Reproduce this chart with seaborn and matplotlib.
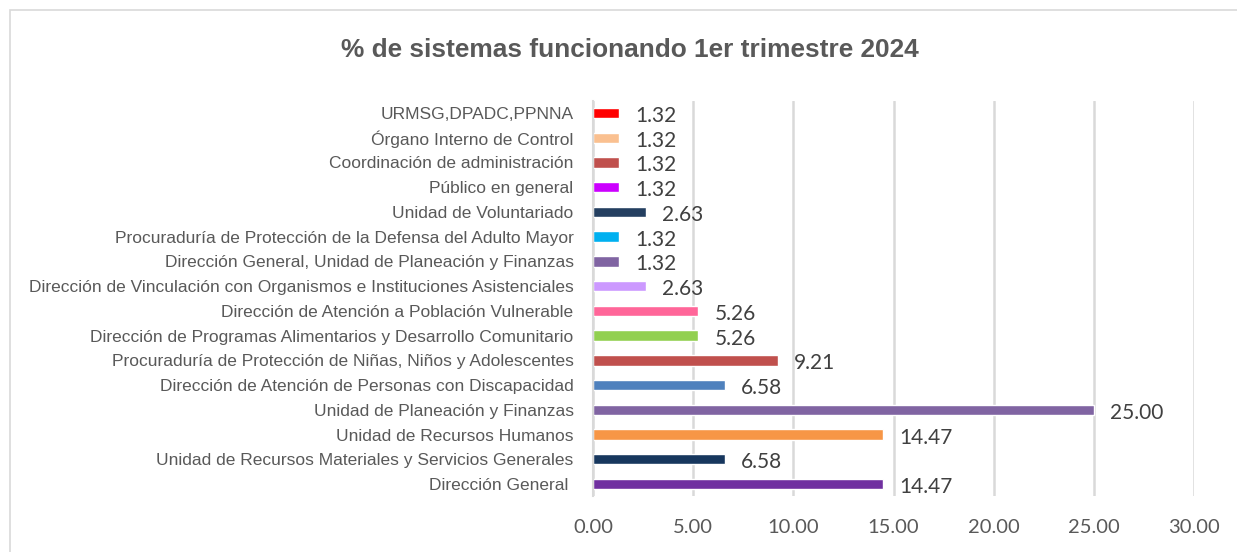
import matplotlib
matplotlib.use("Agg")
import matplotlib.pyplot as plt
import seaborn as sns
import pandas as pd
from matplotlib.patches import Rectangle

categories = [
    "URMSG,DPADC,PPNNA",
    "Órgano Interno de Control",
    "Coordinación de administración",
    "Público en general",
    "Unidad de Voluntariado",
    "Procuraduría de Protección de la Defensa del Adulto Mayor",
    "Dirección General, Unidad de Planeación y Finanzas",
    "Dirección de Vinculación con Organismos e Instituciones Asistenciales",
    "Dirección de Atención a Población Vulnerable",
    "Dirección de Programas Alimentarios y Desarrollo Comunitario",
    "Procuraduría de Protección de Niñas, Niños y Adolescentes",
    "Dirección de Atención de Personas con Discapacidad",
    "Unidad de Planeación y Finanzas",
    "Unidad de Recursos Humanos",
    "Unidad de Recursos Materiales y Servicios Generales",
    "Dirección General ",
]
values = [1.32, 1.32, 1.32, 1.32, 2.63, 1.32, 1.32, 2.63,
          5.26, 5.26, 9.21, 6.58, 25.00, 14.47, 6.58, 14.47]
colors = ["#FF0000", "#FAC090", "#C0504D", "#CC00FF", "#243F60", "#00B0F0",
          "#8064A2", "#CC99FF", "#FF6699", "#92D050", "#C0504D", "#4F81BD",
          "#8064A2", "#F79646", "#17375E", "#7030A0"]
xticks = [0, 5, 10, 15, 20, 25, 30]

sns.set_theme(style="white")
sansfam = ["Liberation Sans", "DejaVu Sans"]
numfont = ["Lato", "DejaVu Sans"]
plt.rcParams["font.family"] = sansfam

df = pd.DataFrame({"cat": categories, "val": values})

fig = plt.figure(figsize=(12.37, 5.52), dpi=100)
ax = fig.add_axes([593/1237, 1-496.4/552, (1194-593)/1237, (496.4-100.6)/552])

sns.barplot(data=df, x="val", y="cat", hue="cat", palette=colors, legend=False,
            orient="h", width=0.42, ax=ax, saturation=1)

ax.set_xlim(0, 30)
ax.set_ylim(15.5, -0.5)
ax.set_xticks(xticks)
ax.set_xticklabels([f"{t:.2f}" for t in xticks], fontfamily=numfont,
                   fontsize=14.5, color="#595959")
ax.tick_params(axis="x", pad=16, length=0)
ax.tick_params(axis="y", pad=14, length=0, labelsize=12.5, labelcolor="#595959")
ax.set_xlabel("")
ax.set_ylabel("")
ax.grid(axis="x", color="#D9D9D9", linewidth=1.8)
ax.set_axisbelow(True)
for s in ["top", "right", "bottom"]:
    ax.spines[s].set_visible(False)
ax.spines["left"].set_color("#D9D9D9")
ax.spines["left"].set_linewidth(1.5)

for i, v in enumerate(values):
    ax.text(v + 0.8, i + 0.12, f"{v:.2f}", va="center", ha="left",
            fontsize=15, color="#404040", fontfamily=numfont)

fig.text(630/1237, 1-50/552, "% de sistemas funcionando 1er trimestre 2024",
         ha="center", va="center", fontsize=18.9, fontweight="bold", color="#595959",
         fontfamily=sansfam)

fig.patches.append(Rectangle((10/1237, -0.1), 1.2, 1-10/552+0.1, transform=fig.transFigure,
                             fill=False, edgecolor="#D9D9D9", linewidth=1.2))

fig.savefig("out.png", dpi=100)
